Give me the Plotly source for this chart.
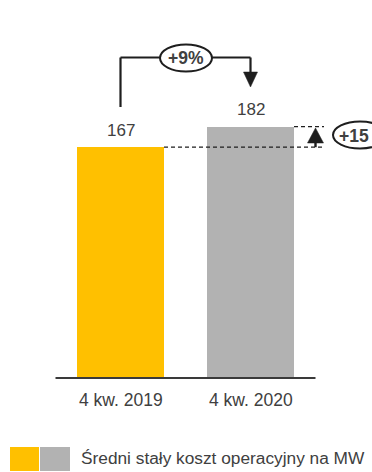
import plotly.graph_objects as go

# Data
categories = ["4 kw. 2019", "4 kw. 2020"]
values = [167, 182]
bar_colors = ["#FFC000", "#B2B2B2"]
legend_label = "Średni stały koszt operacyjny na MW"

W, H = 372, 472
PX_PER_UNIT = 1.376      # vertical scale (pixels per value unit)
BASE_PX = 377            # pixel row of the zero line
X0_PX, X_STEP = 120.5, 130.0  # pixel centre of first category, spacing

FONT = "Liberation Sans, Arial, sans-serif"
TXT = "#404040"
INK = "#1e1e1e"


def ypx(p):
    """pixel row -> data value"""
    return (BASE_PX - p) / PX_PER_UNIT


def xpx(p):
    """pixel column -> category coordinate"""
    return (p - X0_PX) / X_STEP


diff = values[1] - values[0]
pct = round((values[1] / values[0] - 1) * 100)

fig = go.Figure()
fig.add_trace(go.Bar(
    x=[0, 1], y=values, marker=dict(color=bar_colors, line=dict(width=0)),
    width=87 / X_STEP, hoverinfo="skip", showlegend=False,
))

shapes = []
annotations = []

# baseline
shapes.append(dict(type="line", xref="x", yref="y", x0=-0.5, x1=1.5, y0=ypx(378), y1=ypx(378),
                   line=dict(color="#3a3a3a", width=2.2)))

# value labels above bars
for i, v in enumerate(values):
    annotations.append(dict(x=i, y=v, xref="x", yref="y", text=str(v), showarrow=False,
                            yanchor="middle", yshift=17,
                            font=dict(family=FONT, size=17, color=TXT)))

# category labels
for i, c in enumerate(categories):
    annotations.append(dict(x=i, y=ypx(400), xref="x", yref="y", text=c, showarrow=False,
                            yanchor="middle", font=dict(family=FONT, size=17.5, color=TXT)))

# growth bracket between the two bars
top_y = ypx(57.5)
shapes.append(dict(type="line", x0=0, x1=0, y0=ypx(107), y1=top_y, xref="x", yref="y",
                   line=dict(color=INK, width=2.2)))
shapes.append(dict(type="line", x0=0, x1=1, y0=top_y, y1=top_y, xref="x", yref="y",
                   line=dict(color=INK, width=2.2)))
shapes.append(dict(type="line", x0=1, x1=1, y0=top_y, y1=ypx(73), xref="x", yref="y",
                   line=dict(color=INK, width=2.2)))
hw = 7 / X_STEP
shapes.append(dict(type="path", xref="x", yref="y",
                   path=f"M {1 - hw} {ypx(72)} L {1 + hw} {ypx(72)} L 1 {ypx(87)} Z",
                   fillcolor=INK, line=dict(color=INK, width=0.5)))
shapes.append(dict(type="circle", xref="x", yref="y",
                   x0=xpx(160), x1=xpx(212), y0=ypx(71.5), y1=ypx(44.5),
                   fillcolor="white", line=dict(color=INK, width=2)))
annotations.append(dict(x=xpx(186), y=ypx(58), xref="x", yref="y", text=f"<b>+{pct}%</b>",
                        showarrow=False, font=dict(family=FONT, size=17.5, color=TXT)))

# dashed reference lines at bar tops
shapes.append(dict(type="line", xref="x", yref="y", x0=xpx(164), x1=xpx(325),
                   y0=values[0], y1=values[0], line=dict(color=INK, width=1.2, dash="4px,3px")))
shapes.append(dict(type="line", xref="x", yref="y", x0=xpx(294), x1=xpx(324),
                   y0=values[1], y1=values[1], line=dict(color=INK, width=1.2, dash="4px,3px")))

# absolute increase arrow
ax = xpx(315.5)
shapes.append(dict(type="line", xref="x", yref="y", x0=ax, x1=ax, y0=values[0], y1=ypx(141),
                   line=dict(color=INK, width=2.4)))
ahw = 8 / X_STEP
shapes.append(dict(type="path", xref="x", yref="y",
                   path=f"M {ax - ahw} {ypx(143)} L {ax + ahw} {ypx(143)} L {ax} {ypx(128)} Z",
                   fillcolor=INK, line=dict(color=INK, width=0.5)))
shapes.append(dict(type="circle", xref="x", yref="y",
                   x0=xpx(333), x1=xpx(387), y0=ypx(148.5), y1=ypx(121.5),
                   fillcolor="white", line=dict(color=INK, width=2)))
annotations.append(dict(x=xpx(337), y=ypx(136), xref="x", yref="y", text=f"<b>+{diff}</b>",
                        xanchor="left", showarrow=False,
                        font=dict(family=FONT, size=17.5, color=TXT)))

# legend swatches and label
shapes.append(dict(type="rect", xref="paper", yref="paper",
                   x0=10 / W, x1=39 / W, y0=1 - 471 / H, y1=1 - 447 / H,
                   fillcolor=bar_colors[0], line=dict(width=0)))
shapes.append(dict(type="rect", xref="paper", yref="paper",
                   x0=40 / W, x1=70 / W, y0=1 - 471 / H, y1=1 - 447 / H,
                   fillcolor=bar_colors[1], line=dict(width=0)))
annotations.append(dict(x=79 / W, y=1 - 458 / H, xref="paper", yref="paper", text=legend_label,
                        xanchor="left", yanchor="middle", showarrow=False,
                        font=dict(family=FONT, size=17.3, color=TXT)))

fig.update_layout(
    width=W, height=H, margin=dict(l=0, r=0, t=0, b=0),
    paper_bgcolor="white", plot_bgcolor="white",
    xaxis=dict(range=[xpx(0), xpx(W)], visible=False, fixedrange=True),
    yaxis=dict(range=[ypx(H), ypx(0)], visible=False, fixedrange=True),
    shapes=shapes, annotations=annotations, showlegend=False, bargap=0,
)

fig.write_html("out.html")
